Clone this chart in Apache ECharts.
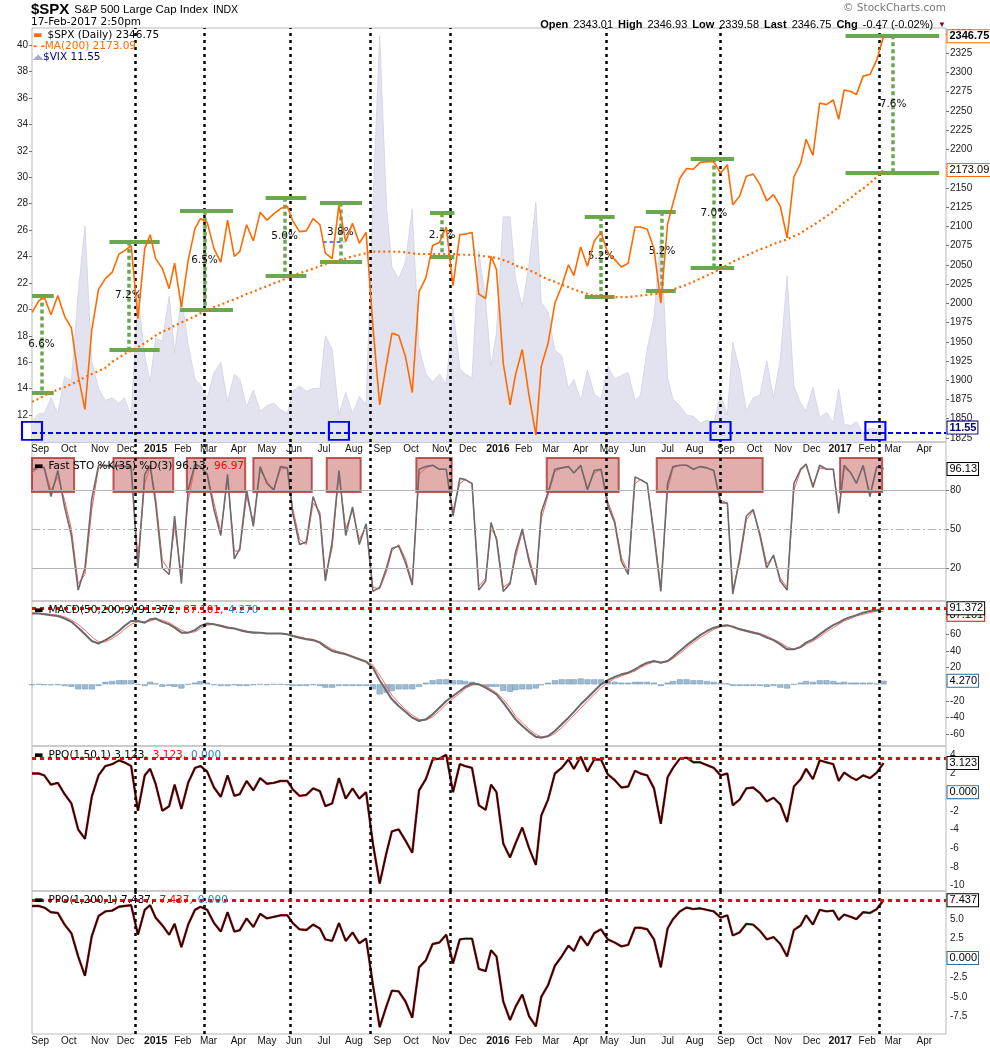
<!DOCTYPE html>
<html><head><meta charset="utf-8">
<script src="https://cdn.jsdelivr.net/npm/echarts@6/dist/echarts.min.js"></script>
<style>html,body{margin:0;padding:0;background:#fff}#c{width:990px;height:1051px}</style>
</head><body><div id="c"></div>
<script>
// ================= DATA =================
const holidays = ['2014-09-01','2014-11-27','2014-12-25','2015-01-01','2015-01-19','2015-02-16','2015-04-03','2015-05-25','2015-07-03','2015-09-07','2015-11-26','2015-12-25','2016-01-01','2016-01-18','2016-02-15','2016-03-25','2016-05-30','2016-07-04','2016-09-05','2016-11-24','2016-12-26','2017-01-02','2017-01-16','2017-02-20','2017-04-14'];
const calendarFirst = '2014-08-01', calendarLast = '2017-04-28';
const axisStart = '2014-08-22', axisEnd = '2017-04-26';
const firstWeekEnd = '2014-08-22'; // weekly samples (Fridays) from here

const monthNames = ['Jan','Feb','Mar','Apr','May','Jun','Jul','Aug','Sep','Oct','Nov','Dec'];

// weekly values, Aug 22 2014 .. Feb 17 2017 (131 weeks)
const spx = [
 1988,2003,2008,1985,2010,1983,1968,1906,1862,1965,2018,2032,2040,2064,2068,2075,1980,2071,2089,
 2058,2045,2019,2052,1995,2056,2097,2110,2105,2071, 2053,2108,2061,2067,2102,2081,2118,2108,2116,2123,
 2126,2107,2093,2094,2110,2102,2065,2058,2127,2080, 2104,2078,2092,1971,1868,1921,1961,1958,1931,1884,
 2015,2033,2075,2079,2099,2023,2089,2090,2092,2012, 2006,2061,
 2044,1922,1868,1907,1940,1880,1829,1918,1948,2000, 2022,2050,2036,2073,2048,2081,2092,2065,2057,2047,
 2052,2099,2099,2096,2071,2000,2103,2130,2162,2175, 2174,2183,2184,2184,2169,2180,2128,2139,2165,2168,
 2154,2133,2141,2126,2085,2164,2182,2213,2192,2260, 2258,2264,2239,
 2277,2275,2271,2295,2297,2316,2346.75];
const ma200 = [
 1872,1876,1880,1884,1888,1891,1895,1899,1904,1908,1912,1916,1924,1929,1934,1938,1943,1948,1953,
 1958,1963,1967,1971,1975,1979,1983,1987,1991,1995, 1998,2002,2005,2008,2012,2015,2019,2022,2026,2029,
 2033,2036,2039,2042,2045,2048,2051,2053,2056,2058, 2061,2063,2065,2067,2067,2067,2067,2067,2066,2065,
 2064,2064,2064,2064,2064,2064,2063,2063,2063,2062, 2061,2060,
 2059,2056,2053,2049,2046,2043,2039,2035,2031,2028, 2024,2021,2018,2015,2012,2010,2009,2008,2008,2008,
 2008,2009,2010,2011,2012,2013,2015,2018,2021,2024, 2028,2032,2036,2040,2045,2050,2054,2058,2062,2066,
 2070,2073,2077,2080,2083,2087,2091,2096,2101,2107, 2113,2119,2125,
 2131,2137,2143,2149,2156,2164,2173.09];
const vix = [
 11.5,12.1,12.1,13.3,12.1,14.9,14.6,21.2,26.3,16.1,14.0,13.1,13.3,12.9,13.3,11.9,21.1,16.5,14.5,
 17.8,17.6,21.0,16.7,21.0,17.3,14.7,14.3,13.3,15.2, 16.0,13.0,15.1,14.7,12.6,13.9,12.3,12.7,12.9,12.4,
 12.1,13.8,14.2,13.8,14.0,14.0,18.0,17.0,12.0,13.7, 12.1,13.4,12.8,28.0,40.7,27.8,23.2,22.3,23.6,27.6,
 17.1,15.1,14.5,15.1,14.3,20.1,15.5,15.1,14.8,24.4, 20.7,15.7,
 18.2,27.0,27.0,22.3,20.2,23.4,28.1,20.5,19.8,16.9, 16.5,14.0,14.7,13.1,15.4,13.6,13.2,15.7,14.7,15.0,
 15.2,13.1,13.5,17.0,19.4,25.8,14.8,13.2,12.7,12.0, 11.9,11.4,11.6,11.3,13.6,12.0,17.5,15.4,12.3,13.3,
 13.5,16.1,13.3,16.2,22.5,14.2,12.9,12.3,14.1,11.8, 12.2,11.4,14.0,
 11.3,11.2,11.5,10.6,11.0,10.9,11.55];
const stoK = [
 95,98,97,75,95,67,45,3,20,73,99,99,98,99,98,98,20,92,99,
 70,20,15,60,8,80,100,98,92,65, 45,92,27,35,80,52,98,85,80,98,
 97,62,38,40,75,60,10,40,95,45, 67,38,54,2,5,20,35,37,24,7,
 96,98,99,96,96,60,89,88,85,3, 10,55,
 42,2,8,32,50,25,7,63,78,96, 97,98,93,99,80,95,96,68,55,25,
 15,90,88,85,45,2,85,98,99,99, 96,98,97,95,70,70,0,27,60,65,
 45,20,30,10,3,85,96,100,82,99, 96,96,62,
 99,93,85,99,75,98,96.13];
const stoD = [
 93,97,97,80,90,72,50,8,15,65,97,99,98,98,98,97,28,85,98,
 75,26,18,52,14,72,98,98,93,70, 48,88,33,33,75,56,95,87,80,96,
 97,66,42,38,70,63,14,35,92,50, 64,42,52,5,4,17,33,38,27,9,
 92,97,99,96,96,64,85,88,85,6, 12,50,
 44,5,9,28,48,28,9,58,76,94, 97,98,93,98,82,93,96,71,57,28,
 17,85,88,85,48,5,80,97,99,99, 96,98,97,95,72,70,4,24,57,64,
 47,23,29,12,5,80,95,99,84,97, 96,96,65,
 97,93,86,98,77,97,96.97];
const macd = [
 85,85,84,83,82,79,75,68,60,52,49,53,58,64,70,76,76,74,78,
 79,75,72,68,62,62,65,70,73,72, 70,68,67,65,63,62,62,61,61,61,
 60,58,56,54,53,50,45,40,38,36, 33,30,27,20,5,-8,-18,-26,-33,-40,
 -44,-42,-36,-28,-20,-14,-8,-3,1,0, -4,-8,
 -12,-22,-33,-42,-50,-57,-63,-64,-62,-56, -48,-40,-33,-24,-16,-8,0,5,9,12,
 14,18,22,26,28,26,28,33,40,47, 53,59,64,68,70,71,69,66,64,62,
 60,56,53,48,42,42,45,50,54,60, 66,71,74,
 78,81,83,86,88,89,91.372];
const macdSignal = [
 86,85,85,84,83,81,77,72,65,57,51,51,55,60,66,72,75,75,76,
 78,77,74,70,65,62,63,67,71,72, 71,69,67,66,64,63,62,61,61,61,
 60,59,57,55,54,51,47,42,39,37, 34,31,28,23,11,-2,-13,-22,-30,-37,
 -42,-43,-39,-32,-24,-17,-11,-5,-1,0, -2,-6,
 -10,-18,-28,-38,-46,-54,-60,-63,-63,-59, -52,-44,-37,-29,-20,-12,-4,2,7,10,
 13,16,20,24,27,27,27,31,37,44, 50,56,61,66,69,70,70,67,65,63,
 61,58,54,50,45,42,44,48,52,57, 63,68,72,
 76,79,82,84,86,88,87.101];
const macdHist = [
 -1,0,-1,-1,-1,-2,-3,-6,-6,-6,-2,3,4,5,5,5,0,-2,3,
 1,-3,-2,-3,-5,0,2,4,2,-1, -2,-2,-1,-2,-2,-1,0,-1,0,0,
 -1,-2,-2,-2,-1,-2,-4,-4,-2,-2, -2,-2,-2,-6,-12,-10,-8,-6,-6,-6,
 -3,2,5,6,6,5,5,4,3,-1, -3,-3,
 -3,-8,-9,-7,-6,-6,-5,-1,2,5, 6,6,6,7,6,6,6,4,3,2,
 2,3,3,3,2,-2,2,4,6,6, 5,5,4,3,2,1,-2,-2,-2,-2,
 -2,-3,-2,-4,-5,0,2,4,3,5, 5,4,2,
 3,2,2,2,2,1,4.27];
const ppo50 = [
 2.0,2.0,1.8,0.8,1.0,-0.2,-1.2,-4.0,-5.0,-0.5,1.8,2.8,3.0,3.4,3.2,2.8,-2.0,1.8,2.5,
 0.9,-2.0,-1.5,0.8,-1.8,1.0,2.6,2.8,2.2,0.5, -0.5,1.8,-0.4,-0.2,1.2,0.2,1.5,0.9,1.0,1.2,
 1.2,0.3,-0.4,-0.3,0.4,0.1,-1.5,-1.2,1.5,-0.7, 0.4,-0.7,0.0,-5.5,-9.8,-6.5,-4.2,-4.0,-5.2,-6.5,
 0.2,1.4,3.5,3.6,4.0,0.0,3.0,2.8,2.6,-1.4, -1.9,0.8,
 0.0,-5.5,-7.0,-5.5,-3.8,-6.0,-7.8,-2.5,-0.8,2.0, 2.6,3.5,2.5,3.8,2.2,3.5,3.5,1.9,1.3,0.5,
 0.6,2.3,2.0,1.8,0.4,-3.4,1.6,2.6,3.6,3.7, 3.2,3.2,2.9,2.6,1.8,2.0,-1.4,-0.8,0.4,0.5,
 -0.1,-1.0,-0.6,-1.3,-3.2,0.6,1.4,2.5,1.4,3.4, 3.2,3.0,1.2,
 2.1,1.6,1.3,1.8,1.5,2.1,3.123];
const ppo200 = [
 6.7,6.7,6.5,5.9,5.8,4.3,3.2,0.2,-2.3,2.8,5.4,6.0,6.1,6.6,6.7,6.8,3.0,6.2,6.8,
 5.2,4.2,3.0,4.4,1.4,4.3,6.2,6.6,6.2,4.5, 3.4,5.9,3.4,3.6,5.1,4.0,5.7,5.1,5.3,5.5,
 5.5,4.5,3.7,3.6,4.3,3.8,2.4,2.2,4.5,2.2, 3.3,1.9,2.5,-3.4,-8.9,-6.2,-4.2,-4.3,-5.6,-7.7,
 -1.2,-0.3,1.8,2.0,3.0,-0.7,2.4,2.5,2.5,-1.4, -1.7,1.0,
 0.2,-5.6,-8.0,-6.3,-4.7,-7.5,-8.8,-5.0,-3.5,-1.0, 0.2,1.6,0.9,2.8,1.6,3.2,3.7,2.4,2.0,1.5,
 1.7,3.9,3.9,3.7,2.4,-1.2,3.8,5.0,6.0,6.5, 6.3,6.4,6.2,6.0,5.2,5.5,2.9,3.3,4.4,4.3,
 3.5,2.4,2.7,1.8,0.2,3.6,4.2,5.5,4.3,6.2, 6.0,6.1,4.9,
 5.6,5.3,5.0,5.9,5.8,6.3,7.437];

// last values shown in tags / legends
const lastSpx = 2346.75, lastMa = 2173.09, lastVix = 11.55;
const lastK = 96.13, lastD = 96.97;
const lastMacd = 91.372, lastSignal = 87.101, lastHist = 4.270;
const lastPpo50 = 3.123, lastPpo200 = 7.437, ppoHist = 0.000;
const ppo50RefLevel = 3.66;

// annotations
const eventDates = ['2014-12-10','2015-02-25','2015-05-27','2015-08-19','2015-11-11','2016-04-28','2016-08-26','2017-02-14'];
const swingStart = ['2014-08-22','2014-11-12','2015-01-29','2015-04-30','2015-06-26','2015-10-21','2016-04-06','2016-06-09','2016-07-27','2017-01-09'];
const swingEnd   = ['2014-09-16','2015-01-07','2015-03-26','2015-06-12','2015-08-11','2015-11-16','2016-05-06','2016-07-12','2016-09-12','2017-04-19'];
const swingMid   = ['2014-09-03','2014-12-03','2015-02-25','2015-05-20','2015-07-20','2015-11-03','2016-04-22','2016-06-27','2016-08-19','2017-03-01'];
const swingHigh  = [2010,2080,2120,2137,2131,2117,2112,2119,2188,2348];
const swingLow   = [1884,1940,1992,2036,2054,2060,2009,2016,2046,2170];
const swingLabel = ['6.6%','7.2%','6.5%','5.0%','3.8%','2.7%','5.2%','5.2%','7.0%','7.6%'];
const blueRefStart = '2015-06-30', blueRefEnd = '2015-07-23', blueRefLevel = 2080;
const vixBoxDates = ['2014-08-22','2015-07-17','2016-08-26','2017-02-09'];
const vixBoxLevel = 10.8, vixLineLevel = 10.64;
const stoBoxStart = ['2014-08-07','2014-11-17','2015-02-05','2015-04-17','2015-07-06','2015-10-07','2016-02-25','2016-06-21','2017-01-03'];
const stoBoxEnd   = ['2014-10-07','2015-01-22','2015-04-09','2015-06-18','2015-08-10','2015-11-12','2016-05-11','2016-10-11','2017-02-16'];
const stoBoxLow = 78.5, stoBoxHigh = 104.6;

// tick labels
const spxTicks = [1825,1850,1875,1900,1925,1950,1975,2000,2025,2050,2075,2100,2125,2150,2175,2200,2225,2250,2275,2300,2325,2350];
const vixTicks = [12,14,16,18,20,22,24,26,28,30,32,34,36,38,40];
const stoTicks = [20,50,80];
const macdTicks = [-60,-40,-20,0,20,40,60,80];
const ppo50Ticks = [-10,-8,-6,-4,-2,0,2,4];
const ppo200Ticks = [-7.5,-5,-2.5,0,2.5,5];

// ================= BUILD =================
function pad(n){return n<10?'0'+n:''+n;}
function fmt(d){return d.getUTCFullYear()+'-'+pad(d.getUTCMonth()+1)+'-'+pad(d.getUTCDate());}
const tradingDays = [];
for (let d=new Date(calendarFirst+'T00:00:00Z'); fmt(d)<=calendarLast; d.setUTCDate(d.getUTCDate()+1)) {
  const wd=d.getUTCDay(), s=fmt(d);
  if (wd===0||wd===6||holidays.indexOf(s)>=0) continue;
  tradingDays.push(s);
}
const dayIdx = {}; tradingDays.forEach((s,i)=>dayIdx[s]=i);
function xi(s){ let d=new Date(s+'T00:00:00Z'); let n=0; while(!(fmt(d) in dayIdx) && n<10){ d.setUTCDate(d.getUTCDate()-1); n++; } return dayIdx[fmt(d)]; }
const X0 = xi(axisStart), X1 = xi(axisEnd);
const weekEnds = [];
{ let d=new Date(firstWeekEnd+'T00:00:00Z'); for(let i=0;i<spx.length;i++){ weekEnds.push(fmt(d)); d.setUTCDate(d.getUTCDate()+7);} }
const wx = weekEnds.map(xi);
const pairs = arr => arr.map((v,i)=>[wx[i], v]);

const monthStarts = [], monthLabel = {};
tradingDays.forEach((s,i)=>{
  if (i>0 && s.slice(0,7)!==tradingDays[i-1].slice(0,7) && i>=X0 && i<=X1) {
    monthStarts.push(i);
    const m = +s.slice(5,7);
    monthLabel[i] = m===1 ? '{y|'+s.slice(0,4)+'}' : monthNames[m-1];
  }
});

const FONT = 'Liberation Sans, Arial, sans-serif';
const LFONT = 'DejaVu Sans, Verdana, sans-serif';
const ORANGE = '#ff6a00', GREEN = '#6aa84f';

const grids = [
  {top:28, height:414}, {top:442, height:159}, {top:601, height:145}, {top:746, height:145}, {top:891, height:143}
].map(g=>Object.assign({left:32, right:44, show:true, borderColor:'#b9b9b9', borderWidth:1, backgroundColor:'transparent', containLabel:false, outerBoundsMode:'none'}, g));

const xAxes = grids.map((g,i)=>({
  type:'value', gridIndex:i, min:X0, max:X1,
  axisLine:{show:false}, axisTick:{show:false}, splitLine:{show:false},
  axisLabel: (i===0||i===4) ? {
    show:true, customValues:monthStarts, margin:2, fontSize:10, fontFamily:FONT, color:'#111',
    formatter: v=>monthLabel[v]||'', rich:{y:{fontWeight:'bold', fontSize:10.5, fontFamily:FONT, color:'#111'}}
  } : {show:false}
}));

function yax(grid, pos, min, max, ticks, f, showTick){
  return {type:'value', gridIndex:grid, position:pos, min, max,
    splitLine:{show:false}, axisLine:{show:false},
    axisTick:{show:showTick!==false, length:3, customValues:ticks, lineStyle:{color:'#777'}},
    axisLabel:{show:true, customValues:ticks, fontSize:10, fontFamily:FONT, color:'#222', margin:4, formatter: f||(v=>String(v))}};
}
const yAxes = [
  yax(0,'right',1819.8,2357.5,spxTicks),
  yax(0,'left',9.96,41.29,vixTicks),
  yax(1,'right',-5.38,116.92,stoTicks),
  yax(2,'right',-74,100,macdTicks),
  yax(3,'right',-10.6,4.95,ppo50Ticks, null, false),
  yax(4,'right',-9.79,8.63,ppo200Ticks, v=>v.toFixed(1), false)
];

function tag(value, text, border, color, bold, size){
  return {coord:[X1, value], symbol:'rect', symbolSize:[1,1], itemStyle:{color:'rgba(0,0,0,0)'},
    label:{show:true, position:'right', distance:1, formatter:text, backgroundColor:'#fff',
      borderColor:border, borderWidth:1, padding:[1,1,0,2], color:color, fontSize:size||11,
      fontWeight:bold?'bold':'normal', fontFamily:FONT}};
}
function eventSeries(gi, yi){
  return {type:'line', xAxisIndex:gi, yAxisIndex:yi, data:[], silent:true, z:5,
    markLine:{symbol:'none', silent:true, animation:false, label:{show:false},
      lineStyle:{color:'#000', type:[3,4], width:2.5},
      data: eventDates.map(d=>({xAxis:xi(d)}))}};
}

const swingLines = [];
swingStart.forEach((s,i)=>{
  const a=xi(s), b=xi(swingEnd[i]), m=xi(swingMid[i]);
  swingLines.push([{coord:[a,swingHigh[i]], lineStyle:{color:GREEN,width:4,type:'solid'}},{coord:[b,swingHigh[i]]}]);
  swingLines.push([{coord:[a,swingLow[i]], lineStyle:{color:GREEN,width:4,type:'solid'}},{coord:[b,swingLow[i]]}]);
  swingLines.push([{coord:[m,swingHigh[i]], lineStyle:{color:GREEN,width:3.5,type:[4,3]}},{coord:[m,swingLow[i]]}]);
});
swingLines.push([{coord:[xi(blueRefStart),blueRefLevel], lineStyle:{color:'#2050ff',width:1.5,type:[4,3]}},{coord:[xi(blueRefEnd),blueRefLevel]}]);
const swingLabels = swingStart.map((s,i)=>({coord:[xi(swingMid[i]), (swingHigh[i]+swingLow[i])/2], symbol:'rect', symbolSize:[1,1],
  itemStyle:{color:'rgba(0,0,0,0)'}, label:{show:true, position:'inside', formatter:swingLabel[i], fontSize:10.5, fontFamily:LFONT, color:'#111'}}));

const series = [
  // ---- main panel ----
  {name:'VIX', type:'line', xAxisIndex:0, yAxisIndex:1, data:pairs(vix), symbol:'none', z:1,
    lineStyle:{width:0.8, color:'#cfd0e4'}, areaStyle:{color:'#e3e3f0', opacity:1, origin:'start'},
    markLine:{symbol:'none', silent:true, label:{show:false}, lineStyle:{color:'#0000ee', type:[5,3], width:2},
      data:[{yAxis:vixLineLevel}]},
    markPoint:{silent:true, data:[tag(vixBoxLevel+0.25, lastVix.toFixed(2), '#000080', '#000080', true, 11)]}
  },
  {name:'vixBoxes', type:'line', xAxisIndex:0, yAxisIndex:1, data:[], silent:true, z:9, clip:false,
    markPoint:{silent:true, data: vixBoxDates.map(d=>({coord:[xi(d), vixBoxLevel], symbol:'rect', symbolSize:[20,18],
      itemStyle:{color:'rgba(0,0,0,0)', borderColor:'#0000ff', borderWidth:2}, label:{show:false}}))}},
  eventSeries(0,0),
  {name:'swings', type:'line', xAxisIndex:0, yAxisIndex:0, data:[], silent:true, z:6, clip:false,
    markLine:{symbol:'none', silent:true, label:{show:false}, data:swingLines},
    markPoint:{silent:true, data:swingLabels}},
  {name:'MA200', type:'line', xAxisIndex:0, yAxisIndex:0, data:pairs(ma200), symbol:'none', z:7,
    lineStyle:{color:ORANGE, width:2.2, type:[2,3]},
    markPoint:{silent:true, data:[tag(lastMa, lastMa.toFixed(2), ORANGE, '#000', false, 11)]}},
  {name:'SPX', type:'line', xAxisIndex:0, yAxisIndex:0, data:pairs(spx), symbol:'none', z:8,
    lineStyle:{color:ORANGE, width:1.6},
    markPoint:{silent:true, data:[tag(lastSpx, lastSpx.toFixed(2), ORANGE, '#000', true, 11)]}},
  // ---- STO panel ----
  {name:'stoBoxes', type:'line', xAxisIndex:1, yAxisIndex:2, data:[], silent:true, z:9, clip:false,
    markArea:{silent:true, itemStyle:{color:'rgba(175,40,40,0.38)', borderColor:'rgba(170,40,40,0.75)', borderWidth:2},
      data: stoBoxStart.map((s,i)=>[{coord:[xi(s), stoBoxLow]},{coord:[xi(stoBoxEnd[i]), stoBoxHigh]}])}},
  eventSeries(1,2),
  {name:'%D', type:'line', xAxisIndex:1, yAxisIndex:2, data:pairs(stoD), symbol:'none', z:3,
    lineStyle:{color:'#ff5a5a', width:1}},
  {name:'%K', type:'line', xAxisIndex:1, yAxisIndex:2, data:pairs(stoK), symbol:'none', z:4,
    lineStyle:{color:'#6c6c6c', width:1.6},
    markLine:{symbol:'none', silent:true, label:{show:false}, lineStyle:{color:'#b4b4b4', width:1, type:'solid'},
      data:[{yAxis:80},{yAxis:20},{yAxis:50, lineStyle:{color:'#b4b4b4', width:1, type:[8,3,2,3]}}]},
    markPoint:{silent:true, data:[tag(lastK, lastK.toFixed(2), '#000', '#000', false, 11)]}},
  // ---- MACD panel ----
  {name:'hist', type:'bar', xAxisIndex:2, yAxisIndex:3, data:pairs(macdHist), barWidth:6, z:2,
    itemStyle:{color:'#9dbad0', borderColor:'#6f97b5', borderWidth:0.5}},
  eventSeries(2,3),
  {name:'signal', type:'line', xAxisIndex:2, yAxisIndex:3, data:pairs(macdSignal), symbol:'none', z:3,
    lineStyle:{color:'#ff6b6b', width:1}},
  {name:'macd', type:'line', xAxisIndex:2, yAxisIndex:3, data:pairs(macd), symbol:'none', z:4,
    lineStyle:{color:'#6a6a6a', width:2},
    markLine:{symbol:'none', silent:true, label:{show:false}, lineStyle:{color:'#ff0000', width:3, type:[4,4]}, data:[{yAxis:lastMacd}]},
    markPoint:{silent:true, data:[tag(lastSignal-3.5, lastSignal.toFixed(3), '#ff0000', '#000', false, 11),
      tag(lastMacd, lastMacd.toFixed(3), '#000', '#000', false, 11),
      tag(lastHist, lastHist.toFixed(3), '#2f6f9f', '#000', false, 11)]}},
  // ---- PPO(1,50,1) ----
  eventSeries(3,4),
  {name:'ppo50sig', type:'line', xAxisIndex:3, yAxisIndex:4, data:pairs(ppo50), symbol:'none', z:3,
    lineStyle:{color:'#b01818', width:2.4}},
  {name:'ppo50', type:'line', xAxisIndex:3, yAxisIndex:4, data:pairs(ppo50), symbol:'none', z:4,
    lineStyle:{color:'#140808', width:1.3},
    markLine:{symbol:'none', silent:true, label:{show:false}, lineStyle:{color:'#ff0000', width:3, type:[4,4]}, data:[{yAxis:ppo50RefLevel}]},
    markPoint:{silent:true, data:[tag(lastPpo50, lastPpo50.toFixed(3), '#000', '#000', false, 11),
      tag(ppoHist, ppoHist.toFixed(3), '#2f6f9f', '#000', false, 11)]}},
  // ---- PPO(1,200,1) ----
  eventSeries(4,5),
  {name:'ppo200sig', type:'line', xAxisIndex:4, yAxisIndex:5, data:pairs(ppo200), symbol:'none', z:3,
    lineStyle:{color:'#b01818', width:2.4}},
  {name:'ppo200', type:'line', xAxisIndex:4, yAxisIndex:5, data:pairs(ppo200), symbol:'none', z:4,
    lineStyle:{color:'#140808', width:1.3},
    markLine:{symbol:'none', silent:true, label:{show:false}, lineStyle:{color:'#ff0000', width:3, type:[4,4]}, data:[{yAxis:lastPpo200}]},
    markPoint:{silent:true, data:[tag(lastPpo200, lastPpo200.toFixed(3), '#000', '#000', false, 11),
      tag(ppoHist, ppoHist.toFixed(3), '#2f6f9f', '#000', false, 11)]}}
];

const legendRich = {
  k:{color:'#000', fontSize:10, fontFamily:LFONT, fontWeight:'bold'},
  t:{color:'#000', fontSize:10.5, fontFamily:LFONT},
  r:{color:'#ff0000', fontSize:10.5, fontFamily:LFONT},
  b:{color:'#2b86c8', fontSize:10.5, fontFamily:LFONT}
};
const titles = [
  {left:31, top:1, padding:0, text:'{a|$SPX} {b|S&P 500 Large Cap Index} {c|INDX}',
    textStyle:{rich:{a:{fontSize:15, fontWeight:'bold', fontFamily:FONT, color:'#000'},
      b:{fontSize:11.5, fontWeight:'normal', fontFamily:FONT, color:'#000'}, c:{fontSize:10.5, fontWeight:'normal', fontFamily:FONT, color:'#000'}}}},
  {left:31, top:17, padding:0, text:'17-Feb-2017 2:50pm', textStyle:{fontSize:10.5, fontWeight:'normal', fontFamily:LFONT, color:'#000'}},
  {right:44, top:3, padding:0, text:'© StockCharts.com', textStyle:{fontSize:10.5, fontWeight:'normal', fontFamily:LFONT, color:'#777'}},
  {right:44, top:16, padding:0, text:'{l|Open} {v|2343.01} {l|High} {v|2346.93} {l|Low} {v|2339.58} {l|Last} {v|2346.75} {l|Chg} {v|-0.47 (-0.02%)} {d|▼}',
    textStyle:{rich:{l:{fontWeight:'bold', fontSize:11, fontFamily:FONT, color:'#000'}, v:{fontSize:11, fontWeight:'normal', fontFamily:FONT, color:'#000'}, d:{fontSize:8, color:'#8b0033'}}}},
  {left:33, top:29.5, padding:0, text:'{o|▬} {t|$SPX (Daily) '+lastSpx.toFixed(2)+'}\n{o|- -}{m|MA(200) '+lastMa.toFixed(2)+'}\n{g|◢◣}{n|$VIX '+lastVix.toFixed(2)+'}',
    textStyle:{lineHeight:11, rich:{o:{color:ORANGE, fontSize:10, fontFamily:LFONT, lineHeight:11, fontWeight:'bold'},
      t:{color:'#000', fontSize:10.5, fontWeight:'normal', fontFamily:LFONT, lineHeight:11}, m:{color:ORANGE, fontSize:10.5, fontWeight:'normal', fontFamily:LFONT, lineHeight:11},
      g:{color:'#a8a8c8', fontSize:7, lineHeight:11}, n:{color:'#000080', fontSize:10.5, fontWeight:'normal', fontFamily:LFONT, lineHeight:11}}}},
  {left:34, top:457, padding:0, text:'{k|▬} {t|Fast STO %K(35) %D(3) '+lastK.toFixed(2)+',} {r|'+lastD.toFixed(2)+'}', textStyle:{rich:legendRich}},
  {left:34, top:601.5, padding:0, text:'{k|▬} {t|MACD(50,200,9) '+lastMacd.toFixed(3)+',} {r|'+lastSignal.toFixed(3)+',} {b|'+lastHist.toFixed(3)+'}', textStyle:{rich:legendRich}},
  {left:34, top:746.5, padding:0, text:'{k|▬} {t|PPO(1,50,1) '+lastPpo50.toFixed(3)+',} {r|'+lastPpo50.toFixed(3)+',} {b|'+ppoHist.toFixed(3)+'}', textStyle:{rich:legendRich}},
  {left:34, top:891.5, padding:0, text:'{k|▬} {t|PPO(1,200,1) '+lastPpo200.toFixed(3)+',} {r|'+lastPpo200.toFixed(3)+',} {b|'+ppoHist.toFixed(3)+'}', textStyle:{rich:legendRich}}
];
legendRich.t.fontWeight = 'normal'; legendRich.r.fontWeight = 'normal'; legendRich.b.fontWeight = 'normal';

const chart = echarts.init(document.getElementById('c'), null, {renderer:'canvas', width:990, height:1051});
chart.setOption({
  animation:false, backgroundColor:'#fff',
  title:titles, grid:grids, xAxis:xAxes, yAxis:yAxes, series:series
});
</script></body></html>
